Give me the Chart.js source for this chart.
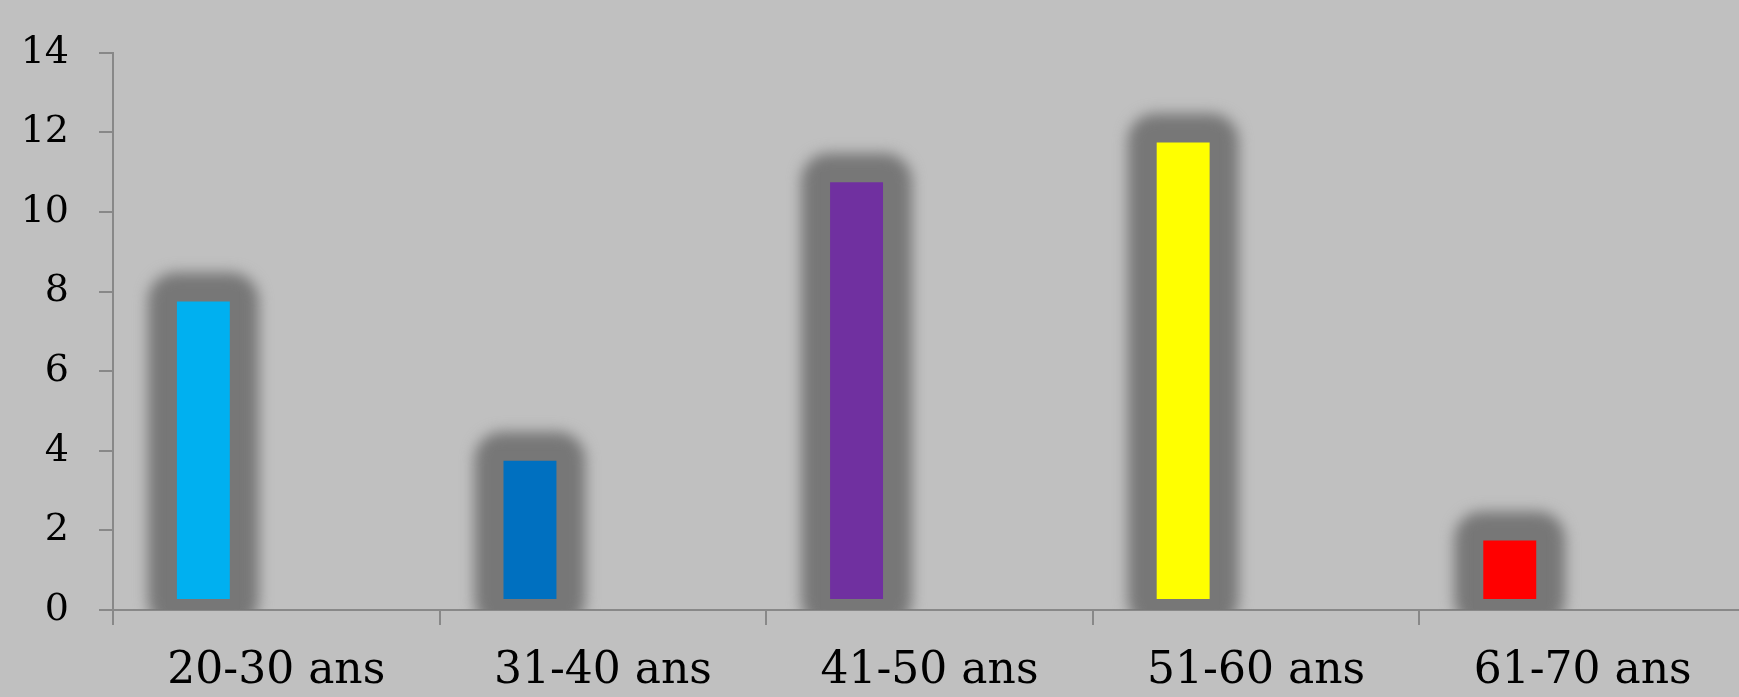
<!DOCTYPE html>
<html lang="fr">
<head>
<meta charset="UTF-8">
<title>Tranches d'âge</title>
<script src="https://cdn.jsdelivr.net/npm/chart.js@4.4.0/dist/chart.umd.min.js"></script>
<style>
  html, body { margin: 0; padding: 0; background: #c0c0c0; overflow: hidden; }
  #wrap { width: 1746px; height: 697px; }
</style>
</head>
<body>
<div id="wrap"><canvas id="chart"></canvas></div>
<script>
// données
var categories = ["20-30 ans", "31-40 ans", "41-50 ans", "51-60 ans", "61-70 ans"];
var serie1 = [8, 4, 11, 12, 2];
var serie2 = [null, null, null, null, null];
var serie3 = [null, null, null, null, null];
var couleurs = ["#00b0f0", "#0070c0", "#7030a0", "#ffff00", "#ff0000"];
var yTicks = [0, 2, 4, 6, 8, 10, 12, 14];

var GRIS = "#777777";

// halo gris flou autour des barres
var halo = {
  id: "halo",
  beforeDatasetsDraw: function(chart) {
    var ctx = chart.ctx, a = chart.chartArea;
    var meta = chart.getDatasetMeta(0);
    ctx.save();
    ctx.beginPath();
    ctx.rect(a.left, a.top - 60, a.right - a.left, a.bottom - a.top + 60);
    ctx.clip();
    ctx.filter = "blur(7px)";
    ctx.fillStyle = GRIS;
    meta.data.forEach(function(bar) {
      var p = bar.getProps(["x", "y", "base", "width"], true);
      var e = 19;
      ctx.beginPath();
      ctx.roundRect(p.x - p.width / 2 - e, p.y - e, p.width + 2 * e, p.base - p.y + 2 * e, 28);
      ctx.fill();
    });
    ctx.restore();
  }
};

new Chart(document.getElementById("chart"), {
  type: "bar",
  data: {
    labels: categories,
    datasets: [
      { label: "Série 1", data: serie1, backgroundColor: couleurs, borderColor: GRIS, borderWidth: 10, borderSkipped: false },
      { label: "Série 2", data: serie2 },
      { label: "Série 3", data: serie3 }
    ]
  },
  options: {
    responsive: true,
    maintainAspectRatio: false,
    animation: false,
    categoryPercentage: 0.67,
    barPercentage: 1,
    layout: { padding: { top: 50, right: 0, left: 0, bottom: 0 } },
    plugins: { legend: { display: false }, tooltip: { enabled: false } },
    scales: {
      x: {
        grid: { offset: true, drawOnChartArea: false, drawTicks: true, tickLength: 15, color: "#888888", lineWidth: 2 },
        border: { display: true, color: "#888888", width: 2 },
        ticks: { color: "#000", font: { family: "DejaVu Serif", size: 44 }, padding: 20, maxRotation: 0 },
        afterFit: function(s) { s.height = 87; }
      },
      y: {
        min: 0, max: 14,
        afterBuildTicks: function(s) { s.ticks = yTicks.map(function(v) { return { value: v }; }); },
        grid: { drawOnChartArea: false, drawTicks: true, tickLength: 14, color: "#888888", lineWidth: 2 },
        border: { display: true, color: "#888888", width: 2 },
        ticks: { color: "#000", font: { family: "DejaVu Serif", size: 38 }, padding: 30 },
        afterFit: function(s) { s.width = 113; }
      }
    }
  },
  plugins: [halo]
});
</script>
</body>
</html>
